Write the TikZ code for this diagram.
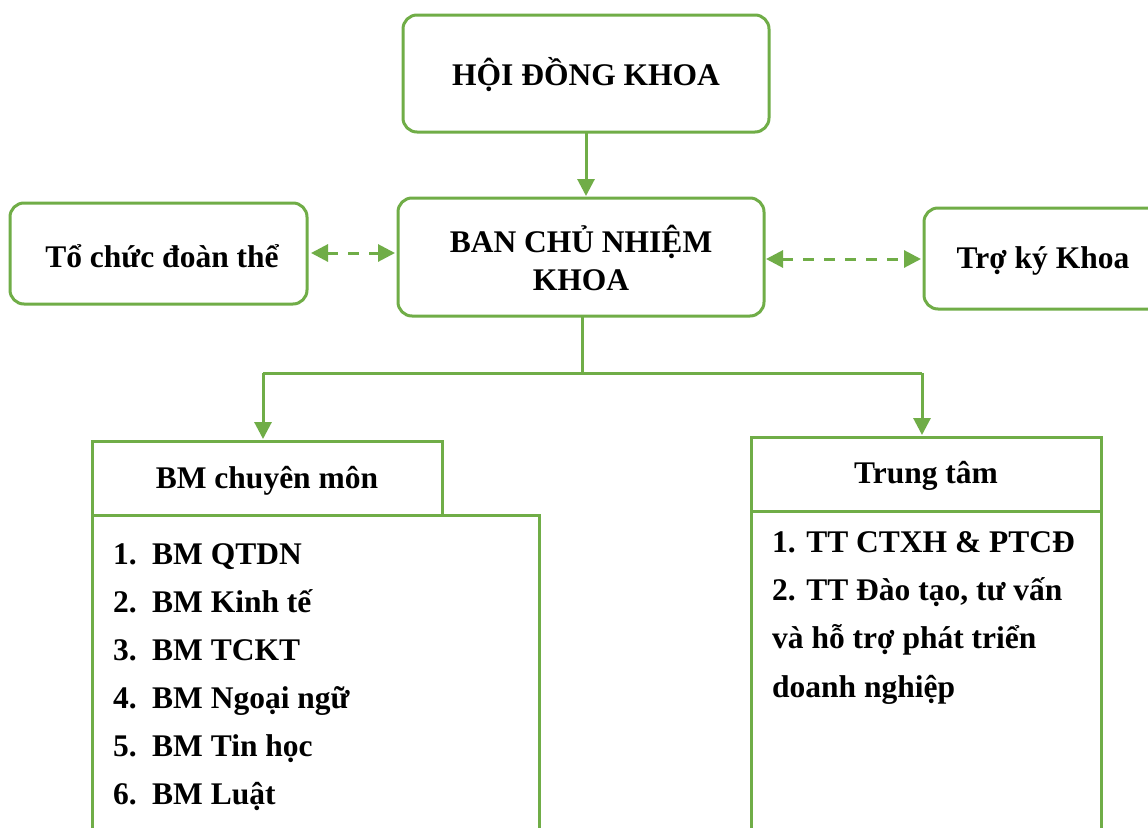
\documentclass[tikz,border=0pt]{standalone}
\usepackage{fontspec}
\setmainfont{Liberation Serif}
\usetikzlibrary{arrows.meta}
\definecolor{gr}{HTML}{70AD47}
\begin{document}
\begin{tikzpicture}[x=1pt,y=-1pt,
  box/.style={draw=gr,line width=3pt,rounded corners=14pt},
  sq/.style={draw=gr,line width=3pt},
  con/.style={draw=gr,line width=3pt,-{Triangle[length=17pt,width=17pt]}},
  dcon/.style={draw=gr,line width=3pt,dashed,dash pattern=on 11pt off 10pt,{Triangle[length=17pt,width=17pt]}-{Triangle[length=17pt,width=17pt]}},
  txt/.style={font=\fontsize{31.5}{38}\selectfont\bfseries,align=center},
  lst/.style={font=\fontsize{31.5}{38}\selectfont\bfseries,anchor=base west,inner sep=0pt}]
\useasboundingbox (0,0) rectangle (1148,827);
\clip (0,0) rectangle (1148,827);
\fill[white] (0,0) rectangle (1148,827);
% boxes
\draw[box] (403,15) rectangle (769,132);
\node[txt] (hd) at (586,75) {HỘI ĐỒNG KHOA};
\coordinate (hdb) at (586,132);
\draw[box] (398,198) rectangle (764,316);
\node[txt] (ban) at (581,258) {BAN CHỦ NHIỆM\\KHOA};
\coordinate (bant) at (586,196);
\coordinate (banb) at (582,316);
\coordinate (banl) at (395,253);
\coordinate (banr) at (766,259);
\draw[box] (10,203) rectangle (307,304);
\node[txt] (tc) at (162,256) {Tổ chức đoàn thể};
\coordinate (tcr) at (311,253);
\draw[box] (924,208) rectangle (1175,309);
\node[txt] (tk) at (1043,261) {Trợ ký Khoa};
\coordinate (tkl) at (921,259);
% connectors
\draw[con] (hdb) -- (bant);
\draw[dcon] (tcr) -- (banl);
\draw[dcon] (banr) -- (tkl);
\coordinate (j) at (582,373);
\coordinate (jl) at (263,373);
\coordinate (jr) at (922,373);
\coordinate (bmt) at (263,439);
\coordinate (ttt) at (922,435);
\draw[draw=gr,line width=3pt] (banb) -- (j);
\draw[draw=gr,line width=3pt] (jl) -- (jr);
\draw[con] (jl) -- (bmt);
\draw[con] (jr) -- (ttt);
% BM chuyen mon
\draw[sq] (92,441) rectangle (442,515);
\node[txt] (bm) at (267,481) {BM chuyên môn};
\draw[sq] (92,515) -- (92,840) (539,840) -- (539,515) -- (92,515);
\node[lst] (b1) at (113,564) {1.};
\node[lst] (b1t) at (152,564) {BM QTDN};
\node[lst] (b2) at (113,612) {2.};
\node[lst] (b2t) at (152,612) {BM Kinh tế};
\node[lst] (b3) at (113,660) {3.};
\node[lst] (b3t) at (152,660) {BM TCKT};
\node[lst] (b4) at (113,708) {4.};
\node[lst] (b4t) at (152,708) {BM Ngoại ngữ};
\node[lst] (b5) at (113,756) {5.};
\node[lst] (b5t) at (152,756) {BM Tin học};
\node[lst] (b6) at (113,804) {6.};
\node[lst] (b6t) at (152,804) {BM Luật};
% Trung tam
\draw[sq] (751,437) rectangle (1101,511);
\node[txt] (tt) at (926,476) {Trung tâm};
\draw[sq] (751,840) -- (751,511) -- (1101,511) -- (1101,840);
\node[lst] (t1) at (772,552) {1. TT CTXH \& PTCĐ};
\node[lst] (t2) at (772,600) {2. TT Đào tạo, tư vấn};
\node[lst] (t3) at (772,648) {và hỗ trợ phát triển};
\node[lst] (t4) at (772,697) {doanh nghiệp};
\end{tikzpicture}
\end{document}
